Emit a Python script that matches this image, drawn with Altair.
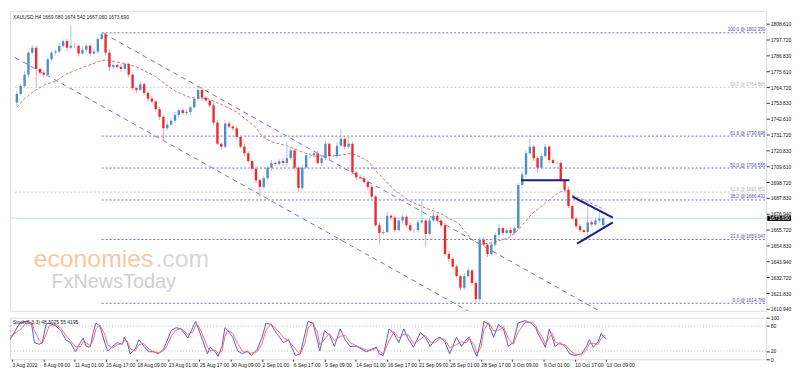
import altair as alt
import pandas as pd

SYMBOL = "XAUUSD,H4"
HEADER_OHLC = [1669.080, 1674.540, 1667.060, 1673.690]
FIRST_OPEN = 1754.0

# one candle per two H4 bars (bar index = 2 * i)
CLOSES = [
    1760.0, 1765.4, 1773.3, 1788.6, 1792.0, 1777.3, 1774.7, 1773.3, 1784.0, 1788.6,
    1789.3, 1793.3, 1796.6, 1792.0, 1793.3, 1793.3, 1788.0, 1790.6, 1793.3, 1788.0,
    1789.3, 1798.0, 1801.3, 1788.6, 1778.7, 1780.0, 1778.7, 1777.3, 1780.7, 1773.3,
    1764.0, 1762.7, 1766.7, 1760.7, 1756.7, 1754.7, 1749.4, 1744.1, 1736.1, 1738.7,
    1741.4, 1745.4, 1748.7, 1746.7, 1747.4, 1750.7, 1756.7, 1762.7, 1757.4, 1755.4,
    1752.0, 1740.1, 1725.4, 1723.4, 1739.4, 1737.4, 1736.1, 1730.1, 1723.4, 1718.8,
    1713.4, 1708.1, 1700.1, 1695.5, 1701.5, 1708.8, 1712.1, 1711.4, 1713.4, 1712.1,
    1715.4, 1720.8, 1708.8, 1694.8, 1708.8, 1717.4, 1717.4, 1718.8, 1712.1, 1715.4,
    1725.4, 1716.8, 1716.8, 1724.1, 1728.8, 1723.4, 1725.4, 1705.5, 1702.1, 1701.5,
    1698.8, 1695.5, 1688.8, 1668.9, 1663.5, 1664.2, 1675.5, 1674.2, 1665.5, 1672.2,
    1674.8, 1668.9, 1665.5, 1665.5, 1670.9, 1672.2, 1662.9, 1672.2, 1675.5, 1672.2,
    1668.9, 1648.9, 1645.6, 1640.2, 1633.6, 1625.6, 1633.6, 1637.6, 1628.9, 1617.6,
    1658.9, 1655.5, 1648.9, 1655.5, 1662.2, 1666.9, 1663.5, 1665.5, 1663.5, 1666.9,
    1696.8, 1704.1, 1718.8, 1723.4, 1715.4, 1708.8, 1716.8, 1723.4, 1714.1, 1712.1,
    1712.1, 1700.1, 1693.5, 1682.2, 1673.5, 1668.2, 1665.5, 1664.2, 1670.9, 1669.5,
    1672.2, 1673.5, 1673.69,
]
UPPER_WICK = [
    2.0, 1.5, 2.5, 1.0, 2.0, 1.5, 1.0, 2.0, 1.5, 1.0,
    1.5, 2.0, 1.0, 1.5, 14.0, 2.0, 1.0, 2.5, 1.5, 1.0,
    2.0, 1.5, 1.3, 1.0, 2.0, 1.5, 1.0, 2.0, 1.5, 1.0,
    1.5, 1.0, 2.0, 1.5, 1.0, 2.0, 1.0, 1.5, 1.0, 2.0,
    1.5, 2.0, 1.0, 1.5, 2.0, 1.0, 1.5, 2.0, 1.5, 1.0,
    1.0, 2.0, 1.5, 1.0, 2.5, 1.5, 1.0, 1.5, 1.0, 2.0,
    1.5, 1.0, 1.5, 1.0, 2.0, 1.5, 2.0, 1.0, 1.5, 2.0,
    11.3, 2.0, 1.5, 1.0, 2.0, 1.5, 2.0, 1.0, 1.5, 2.0,
    2.0, 1.0, 1.5, 2.0, 6.6, 1.0, 5.3, 1.5, 1.0, 2.0,
    1.5, 1.0, 1.5, 1.0, 2.0, 1.5, 2.5, 1.0, 1.5, 2.0,
    1.5, 1.0, 2.0, 1.5, 2.0, 15.3, 1.0, 2.0, 5.3, 1.5,
    1.0, 1.5, 2.0, 1.0, 1.5, 1.0, 2.0, 1.5, 1.0, 1.5,
    2.0, 1.5, 1.0, 2.0, 1.5, 3.0, 1.0, 1.5, 2.0, 1.0,
    1.5, 2.0, 2.0, 5.4, 1.0, 1.5, 2.0, 2.0, 1.0, 1.5,
    1.0, 1.5, 1.0, 2.0, 1.5, 1.0, 1.5, 1.0, 13.3, 1.5,
    2.0, 5.3, 0.85,
]
LOWER_WICK = [
    3.0, 1.5, 1.0, 2.0, 1.5, 12.0, 1.5, 2.0, 1.0, 1.5,
    2.0, 1.0, 1.5, 2.0, 1.0, 1.5, 2.0, 1.0, 1.5, 2.0,
    1.0, 1.5, 1.0, 2.0, 3.0, 1.5, 1.0, 2.0, 1.5, 2.0,
    1.5, 2.0, 1.0, 1.5, 2.0, 1.0, 1.5, 2.0, 8.7, 1.5,
    1.0, 1.5, 2.0, 1.0, 1.5, 2.0, 1.0, 1.5, 2.0, 1.0,
    1.5, 2.0, 1.0, 2.0, 1.5, 1.0, 2.0, 1.5, 1.0, 2.0,
    1.0, 1.5, 2.0, 6.7, 1.5, 1.0, 2.0, 1.5, 1.0, 2.0,
    1.5, 1.0, 2.0, 2.6, 1.5, 1.0, 2.0, 1.5, 1.0, 2.0,
    1.5, 2.0, 1.0, 1.5, 1.0, 2.0, 1.5, 1.0, 2.0, 1.5,
    1.0, 2.0, 1.5, 1.0, 8.0, 1.5, 1.0, 2.0, 1.5, 1.0,
    2.0, 1.5, 1.0, 2.0, 1.5, 1.0, 8.7, 1.5, 1.0, 2.0,
    1.5, 1.0, 2.0, 1.5, 1.0, 2.0, 1.5, 1.0, 2.0, 2.8,
    1.5, 1.0, 2.0, 1.5, 1.0, 2.0, 1.5, 1.0, 2.0, 1.5,
    1.0, 2.0, 1.5, 1.0, 2.0, 3.5, 1.0, 1.5, 2.0, 1.0,
    1.5, 1.0, 2.0, 1.5, 1.0, 2.0, 1.5, 1.0, 2.0, 1.5,
    1.0, 1.5, 2.02,
]

MA_BARS = [0, 4, 9, 15, 20, 25, 32, 39, 44, 47, 52, 57, 62, 67, 72, 77, 82, 90, 99, 105,
           114, 124, 127, 132, 140, 147, 154, 167, 174, 182, 187, 195, 204, 212, 220, 229,
           235, 240, 247, 255, 260, 267, 274, 280, 284, 287.5, 295.5, 304]
MA_VALUES = [1750.7, 1756.7, 1762.0, 1766.7, 1768.7, 1773.3, 1777.3, 1780.7, 1783.3, 1783.3,
             1782.0, 1780.7, 1778.7, 1775.3, 1772.0, 1766.7, 1762.0, 1757.4, 1756.7, 1753.4,
             1747.4, 1736.7, 1730.8, 1726.7, 1724.1, 1720.1, 1716.8, 1717.4, 1718.8, 1713.4,
             1705.5, 1694.1, 1685.5, 1680.8, 1676.8, 1670.2, 1660.2, 1655.5, 1656.9, 1660.2,
             1665.5, 1676.8, 1684.2, 1690.8, 1693.5, 1690.1, 1685.5, 1680.2]

STOCH_BARS = [-1, 4, 7.5, 10, 11.5, 14, 15.5, 17.5, 19, 22.5, 25, 27.5, 30, 32.5, 35, 36.5, 38, 40,
              41.5, 43, 45, 47.5, 49, 51.5, 54, 56.5, 57.5, 59, 60.5, 63, 65, 67.5, 70, 72.5, 75,
              77.5, 79, 81.5, 84, 86.5, 90, 92.5, 94, 95.5, 97.5, 100, 101.5, 104, 105.5, 107.5,
              109, 110.5, 113, 115.5, 118, 120.5, 122.5, 125.5, 128, 130, 132.5, 135.5, 139,
              141.5, 145, 147.5, 150, 151.5, 154, 156.5, 157.5, 160, 162.5, 165, 168, 170.5, 173,
              176.5, 179, 181.5, 184, 186.5, 188, 190, 193, 195.5, 198, 200.5, 203, 205.5, 209,
              211.5, 214, 216.5, 219, 221.5, 224, 227.5, 230, 232.5, 234, 236.5, 238, 240, 241.5,
              244, 246.5, 249, 251.5, 254, 256.5, 259, 262.5, 265.5, 268, 269, 271.5, 273, 275,
              276.5, 278, 280.5, 283, 285.5, 288, 291.5, 294, 295.5, 297.5, 300, 301.5, 303, 304]
STOCH_K = [47, 87, 91, 87, 40, 36, 40, 84, 87, 80,
           69, 47, 40, 18, 40, 51, 31, 29, 62, 87,
           80, 40, 20, 31, 40, 36, 53, 40, 13, 24,
           47, 31, 18, 18, 13, 24, 40, 69, 76, 73,
           51, 76, 91, 73, 47, 13, 29, 18, 7, 31,
           76, 69, 53, 20, 13, 20, 9, 24, 53, 87,
           84, 62, 40, 47, 9, 13, 62, 91, 87, 42,
           20, 69, 58, 31, 73, 47, 31, 31, 24, 18,
           24, 29, 13, 9, 73, 62, 40, 73, 47, 29,
           64, 53, 31, 47, 53, 42, 13, 53, 31, 47,
           53, 20, 7, 47, 91, 84, 53, 84, 73, 31,
           40, 87, 93, 87, 76, 64, 42, 29, 73, 53,
           31, 40, 31, 13, 9, 13, 31, 47, 29, 42,
           62, 53, 48.3025]
STOCH_D = [55, 70, 88, 89, 70, 45, 38, 60, 80, 84,
           75, 58, 45, 30, 30, 42, 40, 33, 45, 72,
           82, 60, 35, 27, 35, 38, 45, 44, 25, 20,
           35, 38, 25, 18, 16, 20, 30, 55, 70, 74,
           60, 65, 82, 80, 60, 30, 20, 22, 14, 20,
           55, 70, 62, 38, 18, 17, 14, 18, 38, 70,
           85, 72, 52, 45, 25, 12, 40, 75, 88, 62,
           35, 48, 62, 45, 55, 58, 40, 32, 27, 22,
           22, 26, 20, 12, 45, 66, 52, 60, 58, 38,
           48, 58, 42, 40, 50, 48, 28, 35, 42, 40,
           50, 35, 15, 28, 70, 88, 68, 70, 78, 50,
           36, 65, 88, 90, 82, 70, 52, 36, 52, 62,
           42, 36, 35, 22, 12, 11, 22, 38, 38, 36,
           50, 57, 55.4195]

FIB_PCT = ["100.0", "61.8", "50.0", "38.2", "23.6", "0.0", "50.0", "61.8"]
FIB_PRICE = [1802.350, 1730.698, 1708.565, 1686.432, 1659.047, 1614.780, 1764.565, 1691.852]
FIB_START = [44, 44, 44, 44, 44, 44, -1, -1]
FIB_KIND = ["main", "main", "main", "main", "main", "main", "aux", "aux"]

CHANNEL_ID = ["upper", "upper", "lower", "lower"]
CHANNEL_BAR = [45, 309, -1, 239]
CHANNEL_PRICE = [1801.9, 1604.2, 1785.3, 1605.6]

PATTERN_ID = ["neck", "neck", "tri_top", "tri_top", "tri_bot", "tri_bot"]
PATTERN_BAR = [261.5, 286.5, 288, 309, 290.5, 309]
PATTERN_PRICE = [1700.1, 1700.1, 1688.8, 1674.2, 1656.2, 1670.9]

PRICE_TICKS = [1808.610, 1797.720, 1786.830, 1775.610, 1764.720, 1753.830, 1742.610, 1731.720,
               1720.830, 1709.610, 1698.720, 1687.830, 1676.940, 1665.720, 1654.830, 1643.940,
               1632.720, 1621.830, 1610.940]
STOCH_TICKS = [0, 20, 80, 100]
STOCH_LEVELS = [20, 80]
DATE_LABELS = ["3 Aug 2022", "8 Aug 09:00", "11 Aug 01:00", "15 Aug 17:00", "18 Aug 09:00",
               "23 Aug 01:00", "25 Aug 17:00", "30 Aug 09:00", "2 Sep 01:00", "6 Sep 17:00",
               "9 Sep 09:00", "14 Sep 01:00", "16 Sep 17:00", "21 Sep 09:00", "26 Sep 01:00",
               "28 Sep 17:00", "3 Oct 09:00", "6 Oct 01:00", "10 Oct 17:00", "13 Oct 09:00"]
LABEL_STEP = 16

# ---------------------------------------------------------------- layout
W = 764
H_MAIN = 303
H_STOCH = 42
FONT = "Liberation Sans"
XSCALE = alt.Scale(domain=[-1, 386], nice=False, zero=False)
YSCALE = alt.Scale(domain=[1609.6, 1817.6], nice=False, zero=False)
SSCALE = alt.Scale(domain=[0, 100], nice=False, zero=False)

# ---------------------------------------------------------------- data frames
opens = [FIRST_OPEN] + CLOSES[:-1]
opens[-1] = HEADER_OHLC[0]
candles = pd.DataFrame({
    "bar": [2 * i for i in range(len(CLOSES))],
    "open": opens,
    "close": CLOSES,
})
candles["high"] = [max(o, c) + w for o, c, w in zip(opens, CLOSES, UPPER_WICK)]
candles["low"] = [min(o, c) - w for o, c, w in zip(opens, CLOSES, LOWER_WICK)]
candles["dir"] = ["up" if c >= o else "down" for o, c in zip(opens, CLOSES)]

ma = pd.DataFrame({"bar": MA_BARS, "v": MA_VALUES})
fib = pd.DataFrame({"pct": FIB_PCT, "price": FIB_PRICE, "start": FIB_START, "kind": FIB_KIND})
fib["label"] = [f"{p} @ {v:.3f}" for p, v in zip(FIB_PCT, FIB_PRICE)]
channel = pd.DataFrame({"id": CHANNEL_ID, "bar": CHANNEL_BAR, "price": CHANNEL_PRICE})
pattern = pd.DataFrame({"id": PATTERN_ID, "bar": PATTERN_BAR, "price": PATTERN_PRICE})
last = pd.DataFrame({"p": [HEADER_OHLC[3]], "t": [f"{HEADER_OHLC[3]:.3f}"]})
header = pd.DataFrame({"t": [SYMBOL + "  " + " ".join(f"{v:.3f}" for v in HEADER_OHLC)]})

stoch = pd.DataFrame({
    "bar": STOCH_BARS * 2,
    "v": STOCH_K + STOCH_D,
    "line": ["K"] * len(STOCH_K) + ["D"] * len(STOCH_D),
})
stoch_levels = pd.DataFrame({"v": STOCH_LEVELS})
stoch_title = pd.DataFrame({"t": [f"Stoch(5,3,3) {STOCH_K[-1]:.4f} {STOCH_D[-1]:.4f}"]})

# ---------------------------------------------------------------- main panel
price_axis = alt.Axis(orient="right", values=PRICE_TICKS, format=".3f", labelFontSize=5,
                      labelFont=FONT, labelColor="#111", tickSize=3, tickColor="#333",
                      domain=False, grid=False, title=None, labelPadding=1, labelOverlap=False)


def X(field):
    return alt.X(field, type="quantitative", scale=XSCALE, axis=None)


def Y(field):
    return alt.Y(field, type="quantitative", scale=YSCALE, axis=price_axis)


def by_dir(up, down):
    return alt.condition("datum.dir == 'up'", alt.value(up), alt.value(down))


def by_kind(main_c, aux_c):
    return alt.condition("datum.kind == 'main'", alt.value(main_c), alt.value(aux_c))


base_last = alt.Chart(last)
last_line = base_last.mark_rule(color="#d3ebf3", strokeWidth=1.5).encode(y=Y("p"))

fib_lines = alt.Chart(fib).mark_rule(strokeDash=[2, 2], strokeWidth=1).encode(
    x=X("start"), x2=alt.value(W), y=Y("price"), color=by_kind("#6f6fd6", "#c9c9c9"))
fib_text = alt.Chart(fib).mark_text(align="right", baseline="bottom", fontSize=4.6, font=FONT, dy=-0.5).encode(
    x=alt.value(W - 1), y=Y("price"), text="label:N", color=by_kind("#4b4bb0", "#b5b5b5"))

channel_lines = alt.Chart(channel).mark_line(strokeDash=[5, 4], strokeWidth=1, color="#7272d4", clip=True).encode(
    x=X("bar"), y=Y("price"), detail="id:N")

ma_line = alt.Chart(ma).mark_line(strokeDash=[3, 2], strokeWidth=1, color="#c77b70", clip=True).encode(
    x=X("bar"), y=Y("v"))

wicks = alt.Chart(candles).mark_rule(strokeWidth=1).encode(
    x=X("bar"), y=Y("low"), y2="high:Q", color=by_dir("#a6c4e6", "#ff9a9a"))
bodies = alt.Chart(candles).mark_bar(size=2.4).encode(
    x=X("bar"), y=Y("open"), y2="close:Q", color=by_dir("#4f8cca", "#f4262a"))

pattern_lines = alt.Chart(pattern).mark_line(strokeWidth=2, color="#1c1c8c", clip=True).encode(
    x=X("bar"), y=Y("price"), detail="id:N")

price_box = base_last.transform_calculate(hi="datum.p + 1.8", lo="datum.p - 1.8").mark_rect(
    color="#000").encode(x=alt.value(W + 1), x2=alt.value(W + 25), y=Y("hi"), y2="lo:Q")
price_box_text = base_last.mark_text(align="left", baseline="middle", fontSize=5, font=FONT,
                                     color="#fff").encode(x=alt.value(W + 3), y=Y("p"), text="t:N")

header_text = alt.Chart(header).mark_text(align="left", baseline="middle", fontSize=5, font=FONT,
                                          color="#222").encode(x=alt.value(3), y=alt.value(6), text="t:N")

wm1 = alt.Chart(pd.DataFrame({"t": ["economies"]})).mark_text(
    align="left", baseline="alphabetic", fontSize=25, font=FONT, color="#f8c8a4").encode(
    x=alt.value(24), y=alt.value(259), text="t:N")
wm2 = alt.Chart(pd.DataFrame({"t": [".com"]})).mark_text(
    align="left", baseline="alphabetic", fontSize=25, font=FONT, color="#d8d8d8").encode(
    x=alt.value(147), y=alt.value(259), text="t:N")
wm3 = alt.Chart(pd.DataFrame({"t": ["FxNewsToday"]})).mark_text(
    align="left", baseline="alphabetic", fontSize=20, font=FONT, color="#d0d0d0").encode(
    x=alt.value(42), y=alt.value(280), text="t:N")

main = alt.layer(
    last_line, wm1, wm2, wm3, fib_lines, channel_lines, ma_line, wicks, bodies,
    pattern_lines, fib_text, header_text, price_box, price_box_text,
).properties(width=W, height=H_MAIN)

# ---------------------------------------------------------------- stochastic panel
label_array = "[" + ",".join(f"'{s}'" for s in DATE_LABELS) + "]"
date_axis = alt.Axis(orient="bottom", values=[i * LABEL_STEP for i in range(len(DATE_LABELS))],
                     labelExpr=f"{label_array}[round(datum.value / {LABEL_STEP})]",
                     labelAlign="left", labelFontSize=5, labelFont=FONT, labelColor="#111",
                     tickSize=2, tickColor="#333", labelPadding=1, domain=False, grid=False,
                     title=None, labelOverlap=False, labelFlush=False, labelBound=False)
stoch_axis = alt.Axis(orient="right", values=STOCH_TICKS, labelFontSize=5, labelFont=FONT,
                      labelColor="#111", tickSize=3, tickColor="#333", domain=False, grid=False,
                      title=None, labelPadding=1, labelOverlap=False)

SY = alt.Y("v:Q", scale=SSCALE, axis=stoch_axis)
levels = alt.Chart(stoch_levels).mark_rule(strokeDash=[1, 2], color="#b8b8b8", strokeWidth=1).encode(y=SY)
stoch_lines = alt.Chart(stoch).mark_line(strokeWidth=1, clip=True).encode(
    x=alt.X("bar:Q", scale=XSCALE, axis=date_axis),
    y=SY,
    color=alt.Color("line:N", scale=alt.Scale(domain=["D", "K"], range=["#ff6a6a", "#5a5ad0"]), legend=None),
    order=alt.Order("bar:Q"),
)
stoch_text = alt.Chart(stoch_title).mark_text(align="left", baseline="middle", fontSize=5, font=FONT,
                                              color="#222").encode(x=alt.value(3), y=alt.value(4), text="t:N")

stoch_panel = alt.layer(levels, stoch_lines, stoch_text).properties(width=W, height=H_STOCH)

chart = alt.vconcat(main, stoch_panel, spacing=2, padding=0, background="#ffffff").configure_view(
    stroke="#555", strokeWidth=1).configure(font=FONT)

chart.save("out.html", embed_options={"renderer": "svg", "actions": False})
